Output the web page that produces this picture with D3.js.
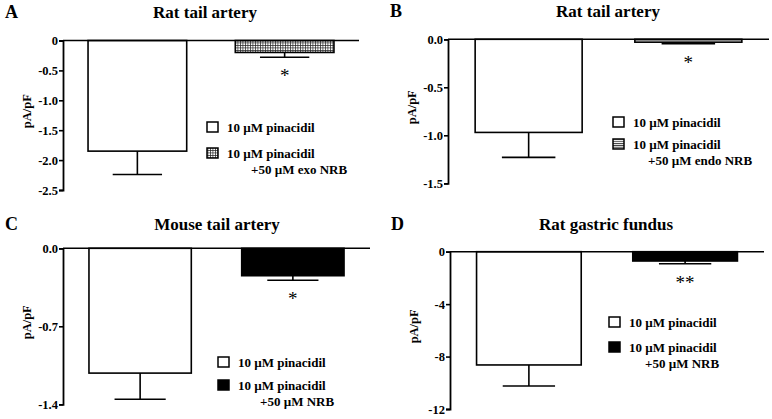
<!DOCTYPE html>
<html>
<head>
<meta charset="utf-8">
<script src="https://cdn.jsdelivr.net/npm/d3@7"></script>
<style>
  body { margin: 0; background: #fff; }
  svg { font-family: "Liberation Serif", "Times New Roman", serif; font-weight: bold; }
</style>
</head>
<body>
<div id="chart"></div>
<script>
// data
const panelLetters = ["A", "B", "C", "D"];
const panelTitles = ["Rat tail artery", "Rat tail artery", "Mouse tail artery", "Rat gastric fundus"];
const groups = ["pinacidil", "pinacidil+NRB"];
const meanA = [-1.85, -0.20], semA = [0.39, 0.08];
const meanB = [-0.97, -0.03], semB = [0.26, 0.015];
const meanC = [-1.12, -0.246], semC = [0.235, 0.041];
const meanD = [-8.64, -0.71], semD = [1.60, 0.21];
const ticksA = [0, -0.5, -1.0, -1.5, -2.0, -2.5];
const ticksB = [0, -0.5, -1.0, -1.5];
const ticksC = [0, -0.7, -1.4];
const ticksD = [0, -4, -8, -12];
const tickLabelsA = ["0", "-0.5", "-1.0", "-1.5", "-2.0", "-2.5"];
const tickLabelsB = ["0.0", "-0.5", "-1.0", "-1.5"];
const tickLabelsC = ["0.0", "-0.7", "-1.4"];
const tickLabelsD = ["0", "-4", "-8", "-12"];
const legendFirst = "10 \u00B5M pinacidil";
const legendSecond = ["+50 \u00B5M exo NRB", "+50 \u00B5M endo NRB", "+50 \u00B5M NRB", "+50 \u00B5M NRB"];
const signif = ["*", "*", "*", "**"];
const yLabel = "pA/pF";

const means = [meanA, meanB, meanC, meanD];
const sems = [semA, semB, semC, semD];
const ticks = [ticksA, ticksB, ticksC, ticksD];
const tickLabels = [tickLabelsA, tickLabelsB, tickLabelsC, tickLabelsD];
const fills = ["url(#grid)", "url(#hlines)", "#000", "#000"];

// panel geometry
const layout = [
  { ax: 63,  top: 40.5,  bottom: 190,   right: 359, tx: 205, ty: 18,  lx: 5,   leg: [207, 122, 26, 251], yl: 27 },
  { ax: 448, top: 39.3,  bottom: 183.3, right: 769, tx: 608, ty: 17,  lx: 390, leg: [613, 117, 22, 648], yl: 412 },
  { ax: 63,  top: 248.3, bottom: 404.3, right: 370, tx: 217, ty: 230, lx: 5,   leg: [218, 357, 23, 260], yl: 27 },
  { ax: 450, top: 251.7, bottom: 409,   right: 764, tx: 606, ty: 230, lx: 391, leg: [609, 317, 25, 645], yl: 414 }
];

const svg = d3.select("#chart").append("svg")
  .attr("width", 772).attr("height", 419);

const defs = svg.append("defs");
const grid = defs.append("pattern").attr("id", "grid")
  .attr("patternUnits", "userSpaceOnUse").attr("width", 2.5).attr("height", 2.5);
grid.append("rect").attr("width", 2.5).attr("height", 2.5).attr("fill", "#fff");
grid.append("path").attr("d", "M0,0.3H2.5M0.3,0V2.5").attr("stroke", "#222").attr("stroke-width", 0.8);
const hl = defs.append("pattern").attr("id", "hlines")
  .attr("patternUnits", "userSpaceOnUse").attr("width", 4).attr("height", 2.2);
hl.append("rect").attr("width", 4).attr("height", 2.2).attr("fill", "#fff");
hl.append("path").attr("d", "M0,0.5H4").attr("stroke", "#222").attr("stroke-width", 0.9);

panelLetters.forEach((letter, i) => {
  const L = layout[i];
  const g = svg.append("g");
  const tk = ticks[i];
  const y = d3.scaleLinear().domain([d3.min(tk), 0]).range([L.bottom, L.top]);
  const x = d3.scaleBand().domain(groups).range([L.ax, L.right])
    .paddingInner(0.33).paddingOuter(0.17);

  g.append("text").attr("x", L.lx).attr("y", L.ty).attr("font-size", 18).text(letter);
  g.append("text").attr("x", L.tx).attr("y", L.ty).attr("text-anchor", "middle")
    .attr("font-size", 17).text(panelTitles[i]);

  const bars = groups.map((k, j) => ({ k, m: means[i][j], s: sems[i][j], fill: j === 0 ? "#fff" : fills[i] }));

  // bars
  g.selectAll("rect.bar").data(bars).join("rect").attr("class", "bar")
    .attr("x", d => x(d.k)).attr("width", x.bandwidth())
    .attr("y", y(0)).attr("height", d => y(d.m) - y(0))
    .attr("fill", d => d.fill).attr("stroke", "#000").attr("stroke-width", 1.6);

  // error bars (downward only)
  bars.forEach(d => {
    const cx = x(d.k) + x.bandwidth() / 2;
    const w = x.bandwidth() / 4;
    g.append("line").attr("x1", cx).attr("x2", cx).attr("y1", y(d.m)).attr("y2", y(d.m - d.s))
      .attr("stroke", "#000").attr("stroke-width", 1.6);
    g.append("line").attr("x1", cx - w).attr("x2", cx + w).attr("y1", y(d.m - d.s)).attr("y2", y(d.m - d.s))
      .attr("stroke", "#000").attr("stroke-width", 1.6);
  });

  // significance
  const b2 = bars[1];
  g.append("text").attr("x", x(b2.k) + x.bandwidth() / 2).attr("y", y(b2.m - b2.s) + 25)
    .attr("text-anchor", "middle").attr("font-size", 19).attr("font-weight", "normal").text(signif[i]);

  // zero line across
  g.append("line").attr("x1", L.ax).attr("x2", L.right).attr("y1", y(0)).attr("y2", y(0))
    .attr("stroke", "#000").attr("stroke-width", 1.6);

  // y axis
  const axis = g.append("g").attr("transform", `translate(${L.ax},0)`)
    .call(d3.axisLeft(y).tickValues(tk).tickSize(4).tickPadding(1)
      .tickFormat((v, j) => tickLabels[i][j]));
  axis.select(".domain").attr("stroke-width", 1.8);
  axis.selectAll(".tick line").attr("stroke-width", 1.6);
  axis.selectAll("text").attr("font-family", "Liberation Serif").attr("font-weight", "bold")
    .attr("font-size", 12.5).attr("fill", "#000");

  g.append("text").attr("transform", `translate(${L.yl},${(L.top + L.bottom) / 2 - 4}) rotate(-90)`)
    .attr("text-anchor", "middle").attr("dy", "0.35em").attr("font-size", 12.5).text(yLabel);

  // legend
  const [bx, by, gap, l3] = L.leg;
  [0, gap].forEach((dy, j) => {
    g.append("rect").attr("x", bx).attr("y", by + dy).attr("width", 11).attr("height", 10)
      .attr("fill", j === 0 ? "#fff" : fills[i]).attr("stroke", "#000").attr("stroke-width", 1.5);
    g.append("text").attr("x", bx + 20).attr("y", by + dy + 9.5).attr("font-size", 13).text(legendFirst);
  });
  g.append("text").attr("x", l3).attr("y", by + gap + 9.5 + 16)
    .attr("font-size", 13).text(legendSecond[i]);
});
</script>
</body>
</html>
